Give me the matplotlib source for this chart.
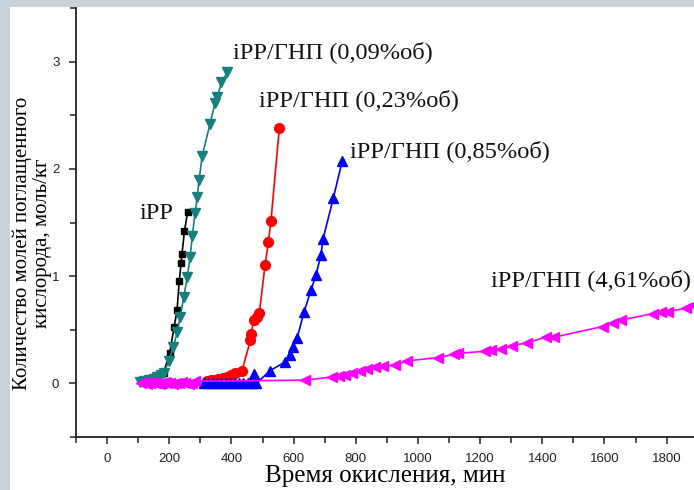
import matplotlib.pyplot as plt
from matplotlib.patches import Rectangle

# iPP (black squares)
ipp_x = [112, 125, 140, 160, 182, 201, 216, 225, 232, 238, 241, 249, 259]
ipp_y = [0.02, 0.03, 0.04, 0.05, 0.10, 0.28, 0.53, 0.68, 0.95, 1.12, 1.21, 1.42, 1.60]

# iPP/GNP 0.09 (teal, down triangles)
g009_x = [107, 120, 135, 150, 161, 172, 183, 199, 213, 226, 235, 247, 258, 267,
          274, 283, 290, 296, 306, 331, 347, 355, 368, 387]
g009_y = [0.01, 0.02, 0.03, 0.04, 0.06, 0.08, 0.10, 0.21, 0.34, 0.48, 0.62, 0.81,
          0.99, 1.18, 1.37, 1.59, 1.74, 1.90, 2.12, 2.42, 2.61, 2.67, 2.81, 2.90]

# iPP/GNP 0.23 (red circles)
g023_x = [323, 333, 345, 358, 372, 387, 400, 413, 434, 461, 464, 471, 482, 490,
          508, 519, 527, 554]
g023_y = [0.02, 0.03, 0.03, 0.04, 0.05, 0.06, 0.08, 0.10, 0.12, 0.40, 0.46, 0.59,
          0.62, 0.66, 1.10, 1.32, 1.51, 2.38]

# iPP/GNP 0.85 (blue up triangles)
g085_x = [312, 326, 340, 354, 368, 382, 396, 410, 424, 438, 452, 466, 480,
          471, 525, 573, 587, 598, 611, 634, 656, 672, 688, 695, 728, 756]
g085_y = [0.0, 0.0, 0.0, 0.0, 0.0, 0.0, 0.0, 0.0, 0.0, 0.0, 0.0, 0.0, 0.0,
          0.09, 0.12, 0.20, 0.26, 0.34, 0.42, 0.67, 0.87, 1.01, 1.20, 1.35, 1.73, 2.07]

# iPP/GNP 4.61 (magenta left triangles)
g461_x = [108, 115, 122, 130, 138, 146, 154, 162, 170, 178, 186, 194, 202, 212,
          222, 232, 242, 252, 262, 272, 284, 638, 724, 745, 765, 787, 814, 835,
          862, 889, 927, 964, 1066, 1115, 1130, 1217, 1235, 1266, 1303, 1352,
          1411, 1437, 1594, 1626, 1653, 1755, 1781, 1803, 1863, 1885]
g461_y = [0.0, 0.01, 0.0, -0.01, 0.0, 0.01, 0.0, 0.0, -0.01, 0.0, 0.01, 0.0, 0.0,
          -0.01, 0.0, 0.0, 0.01, 0.0, -0.01, 0.0, 0.02, 0.03, 0.06, 0.07, 0.08,
          0.10, 0.12, 0.13, 0.15, 0.16, 0.17, 0.21, 0.24, 0.27, 0.28, 0.30, 0.31,
          0.32, 0.35, 0.38, 0.43, 0.43, 0.53, 0.56, 0.59, 0.65, 0.67, 0.67, 0.70, 0.73]

xticks = [0, 200, 400, 600, 800, 1000, 1200, 1400, 1600, 1800]
yticks = [0, 1, 2, 3]

serif = ['Liberation Serif', 'DejaVu Serif']
sans = ['Liberation Sans', 'DejaVu Sans']

fig = plt.figure(figsize=(6.94, 4.9), dpi=100)
fig.patch.set_facecolor('#c9d3db')
fig.patches.append(Rectangle((10 / 694, 0), 1, 1 - 7 / 490, transform=fig.transFigure,
                             facecolor='white', edgecolor='none', zorder=-5))

ax = fig.add_axes([76 / 694, 53 / 490, 618 / 694, 429 / 490])
ax.set_facecolor('none')
ax.set_zorder(2)

def pair(x, y):
    # sort by x so the line runs along the points
    pts = sorted(zip(x, y))
    return [p[0] for p in pts], [p[1] for p in pts]

ax.plot(*pair(ipp_x, ipp_y), color='black', lw=1.2, marker='s', ms=5)
ax.plot(*pair(g009_x, g009_y), color='#17807e', lw=1.2, marker='v', ms=7)
ax.plot(*pair(g023_x, g023_y), color='#ff0000', lw=1.2, marker='o', ms=7)
ax.plot(*pair(g085_x, g085_y), color='#0000ff', lw=1.2, marker='^', ms=7)
ax.plot(*pair(g461_x, g461_y), color='#ff00ff', lw=1.2, marker='<', ms=7)

ax.set_xlim(-100, 1888)
ax.set_ylim(-0.5, 3.5)
ax.set_xticks(xticks)
ax.set_yticks(yticks)
ax.set_xticks(range(-100, 1900, 200), minor=True)
ax.set_yticks([-0.5, 0.5, 1.5, 2.5, 3.5], minor=True)
for lab in ax.get_xticklabels() + ax.get_yticklabels():
    lab.set_family(sans)
ax.tick_params(which='major', direction='out', length=5, width=1.1, labelsize=9.5,
               colors='#222222')
ax.tick_params(which='minor', direction='out', length=4, width=1.1, colors='#222222')
ax.tick_params(axis='x', pad=6.5)
ax.tick_params(axis='y', pad=7)

for s in ['top', 'right']:
    ax.spines[s].set_visible(False)
for s in ['left', 'bottom']:
    ax.spines[s].set_linewidth(1.3)
    ax.spines[s].set_color('#222222')

ax.set_xlabel('Время окисления, мин', family=serif, fontsize=18, va='baseline')
ax.xaxis.set_label_coords(0.5, -0.106)
ax.set_ylabel('Количество молей поглащенного\nкислорода, моль/кг', family=serif,
              fontsize=15, va='center', ha='center', linespacing=1.05)
ax.yaxis.set_label_coords(-0.071, 0.452)

labels = [('iPP', 105, 1.58), ('iPP/ГНП (0,09%об)', 405, 3.09),
          ('iPP/ГНП (0,23%об)', 490, 2.64), ('iPP/ГНП (0,85%об)', 783, 2.17),
          ('iPP/ГНП (4,61%об)', 1234, 0.96)]
for t, x, y in labels:
    ax.text(x, y, t, family=serif, fontsize=17.6, ha='left', va='center', color='#111111')

fig.savefig('out.png', dpi=100, facecolor=fig.get_facecolor())
